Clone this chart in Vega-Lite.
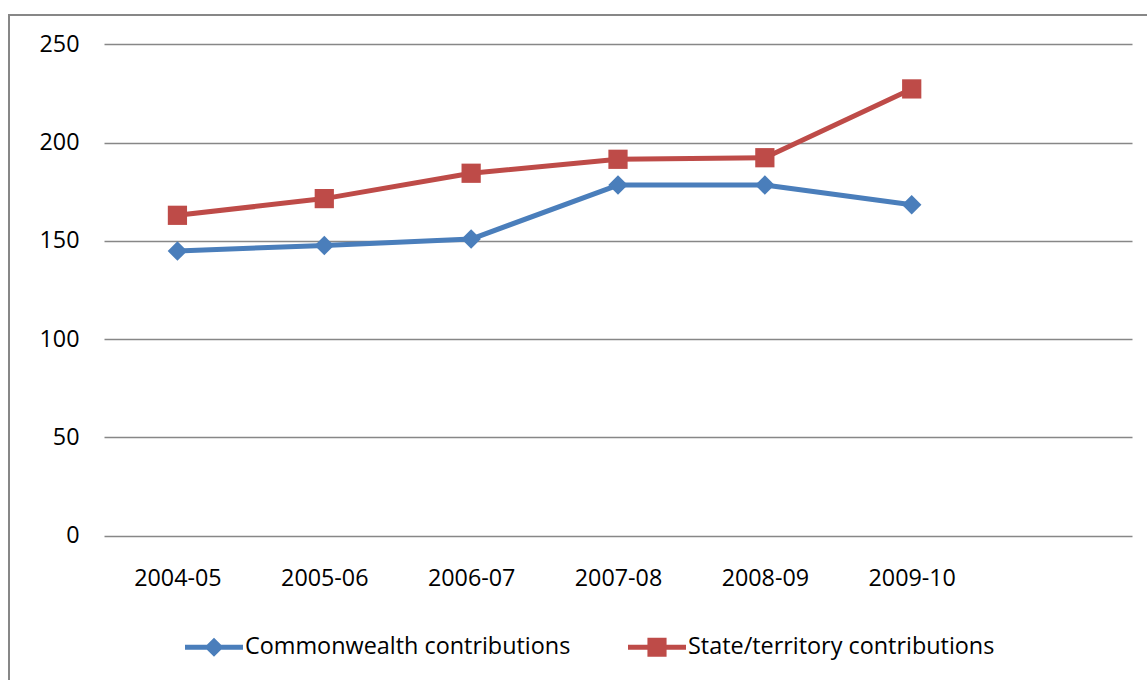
{
  "$schema": "https://vega.github.io/schema/vega-lite/v6.json",
  "width": 1143,
  "height": 675,
  "autosize": {"type": "none"},
  "padding": {"left": 9, "top": 15, "right": -5, "bottom": -10},
  "background": "white",
  "config": {
    "view": {"stroke": "#878787", "strokeWidth": 2, "fill": "white"},
    "font": "Open Sans"
  },
  "data": {
    "values": [
      {"year": "2004-05", "series": "Commonwealth contributions", "value": 144.8},
      {"year": "2005-06", "series": "Commonwealth contributions", "value": 147.7},
      {"year": "2006-07", "series": "Commonwealth contributions", "value": 150.9},
      {"year": "2007-08", "series": "Commonwealth contributions", "value": 178.4},
      {"year": "2008-09", "series": "Commonwealth contributions", "value": 178.4},
      {"year": "2009-10", "series": "Commonwealth contributions", "value": 168.4},
      {"year": "2004-05", "series": "State/territory contributions", "value": 163.0},
      {"year": "2005-06", "series": "State/territory contributions", "value": 171.5},
      {"year": "2006-07", "series": "State/territory contributions", "value": 184.4},
      {"year": "2007-08", "series": "State/territory contributions", "value": 191.5},
      {"year": "2008-09", "series": "State/territory contributions", "value": 192.3},
      {"year": "2009-10", "series": "State/territory contributions", "value": 227.3}
    ]
  },
  "encoding": {
    "x": {
      "field": "year",
      "type": "ordinal",
      "sort": null,
      "scale": {
        "type": "point",
        "domain": ["2004-05", "2005-06", "2006-07", "2007-08", "2008-09", "2009-10", " "],
        "range": [95, 1123],
        "padding": 0.5
      },
      "axis": {
        "orient": "bottom",
        "offset": -154,
        "domain": false,
        "ticks": false,
        "tickSize": 0,
        "grid": false,
        "labelPadding": 31,
        "labelAngle": 0,
        "labelFont": "Open Sans",
        "labelFontSize": 23.3,
        "labelColor": "black",
        "title": null
      }
    },
    "y": {
      "field": "value",
      "type": "quantitative",
      "scale": {"domain": [0, 250], "range": [520.7, 29.3], "nice": false},
      "axis": {
        "orient": "left",
        "offset": -95,
        "values": [0, 50, 100, 150, 200, 250],
        "grid": true,
        "gridColor": "#878787",
        "gridWidth": 1.5,
        "domain": false,
        "ticks": false,
        "tickSize": 0,
        "labelPadding": 25,
        "labelFont": "Open Sans",
        "labelFontSize": 23.3,
        "labelColor": "black",
        "title": null
      }
    },
    "color": {
      "field": "series",
      "type": "nominal",
      "scale": {
        "domain": ["Commonwealth contributions", "State/territory contributions"],
        "range": ["#4A7EBB", "#BE4B48"]
      },
      "legend": {
        "orient": "none",
        "direction": "horizontal",
        "legendX": 176,
        "legendY": 603,
        "title": null,
        "padding": 0,
        "columnPadding": 57,
        "labelOffset": 2,
        "labelLimit": 1000,
        "labelFont": "Open Sans",
        "labelFontSize": 23.4,
        "labelColor": "black",
        "symbolSize": 3364,
        "symbolOpacity": 1,
        "symbolStrokeWidth": 0
      }
    }
  },
  "layer": [
    {
      "mark": {"type": "line", "strokeWidth": 5, "strokeJoin": "round", "strokeCap": "round"}
    },
    {
      "transform": [{"filter": "datum.series === 'Commonwealth contributions'"}],
      "mark": {"type": "point", "filled": true, "shape": "diamond", "size": 380, "opacity": 1}
    },
    {
      "transform": [{"filter": "datum.series === 'State/territory contributions'"}],
      "mark": {"type": "point", "filled": true, "shape": "square", "size": 370, "opacity": 1}
    },
    {
      "mark": {"type": "point", "filled": true, "opacity": 0, "size": 10},
      "encoding": {
        "shape": {
          "field": "series",
          "type": "nominal",
          "scale": {
            "domain": ["Commonwealth contributions", "State/territory contributions"],
            "range": [
              "M-1,-0.086L-0.244,-0.086L0,-0.33L0.244,-0.086L1,-0.086L1,0.086L0.244,0.086L0,0.33L-0.244,0.086L-1,0.086Z",
              "M-1,-0.086L-0.33,-0.086L-0.33,-0.33L0.33,-0.33L0.33,-0.086L1,-0.086L1,0.086L0.33,0.086L0.33,0.33L-0.33,0.33L-0.33,0.086L-1,0.086Z"
            ]
          },
          "legend": null
        }
      }
    }
  ]
}
